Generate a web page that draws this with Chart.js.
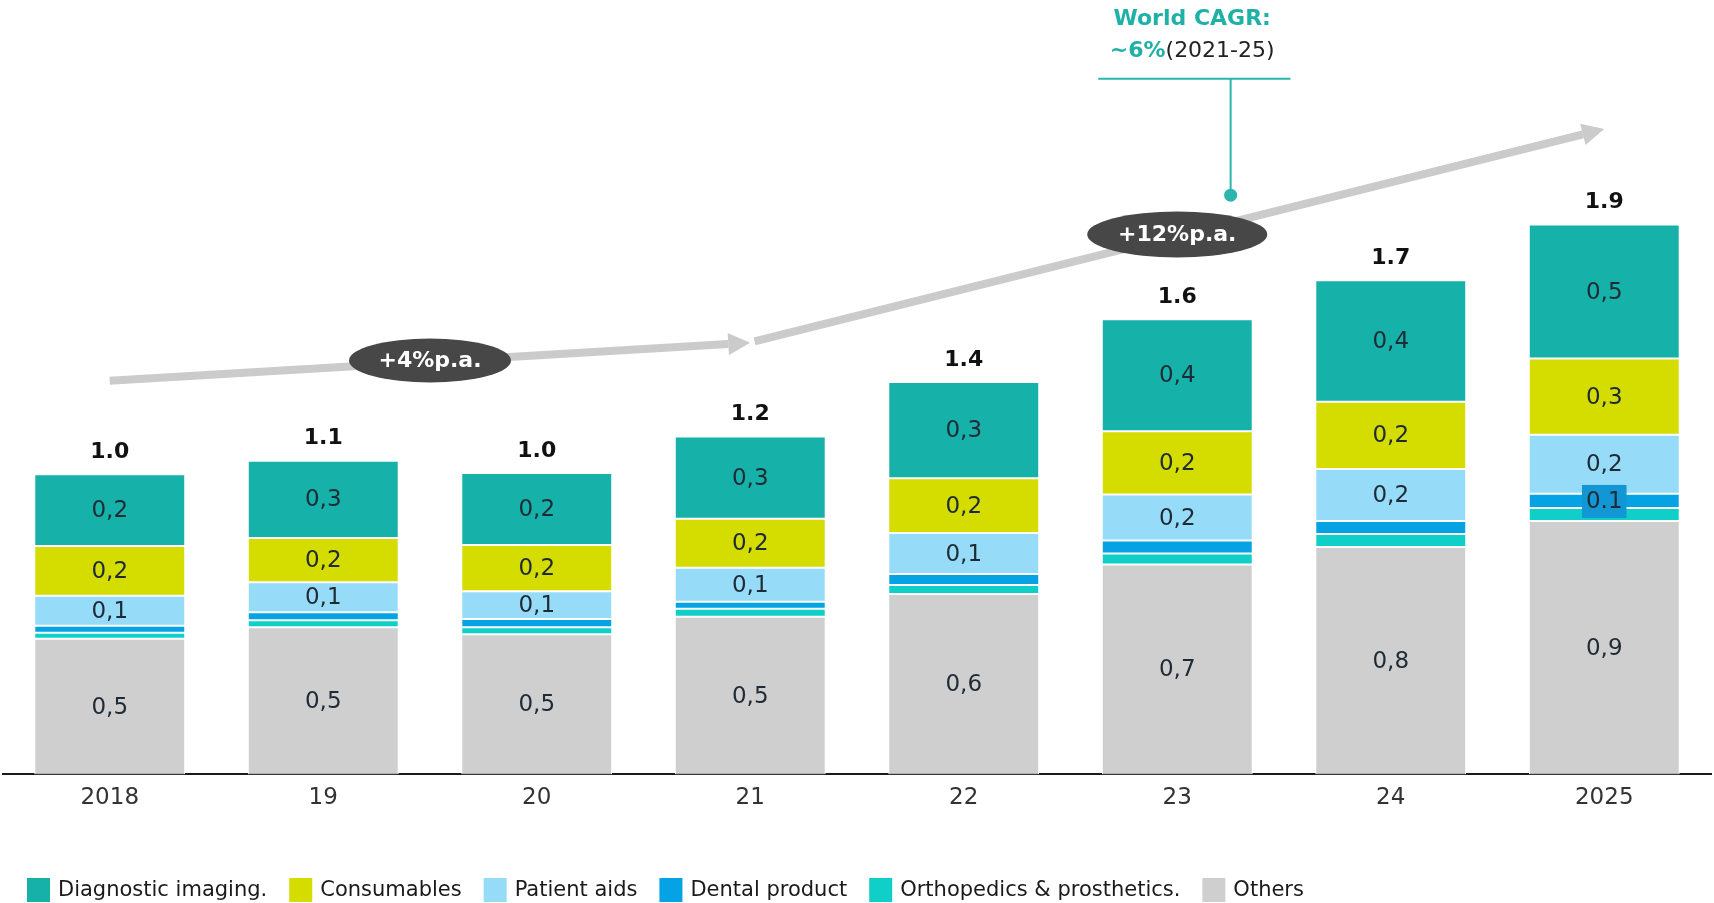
<!DOCTYPE html>
<html>
<head>
<meta charset="utf-8">
<script src="https://cdn.jsdelivr.net/npm/chart.js@4.4.0/dist/chart.umd.min.js"></script>
<style>
    html, body { margin: 0; padding: 0; background: #fff; }
    #wrap { width: 1714px; height: 903px; }
</style>
</head>
<body>
<div id="wrap"><canvas id="marketChart" width="1714" height="903"></canvas></div>
<script>
// Market size by segment
var years = ['2018', '19', '20', '21', '22', '23', '24', '2025'];

var diagnosticImaging = [0.249, 0.268, 0.249, 0.285, 0.334, 0.388, 0.421, 0.464];
var consumables       = [0.172, 0.153, 0.16, 0.17, 0.19, 0.219, 0.233, 0.264];
var patientAids       = [0.104, 0.104, 0.097, 0.118, 0.142, 0.16, 0.18, 0.205];
var dentalProduct     = [0.024, 0.028, 0.028, 0.024, 0.038, 0.045, 0.045, 0.049];
var orthopedics       = [0.021, 0.024, 0.024, 0.028, 0.031, 0.038, 0.045, 0.045];
var others            = [0.47, 0.51, 0.486, 0.546, 0.625, 0.727, 0.788, 0.878];

// only the last dental segment carries a label in the original
var dentalLabels = ['', '', '', '', '', '', '', '0.1'];

var growthLabels = ['+4%p.a.', '+12%p.a.'];
var cagrTitle = 'World CAGR:';
var cagrValue = '~6%';
var cagrPeriod = '(2021-25)';

(function () {
    var FONT = "'DejaVu Sans', Verdana, sans-serif";
    var LABEL_COLOR = '#1e2a35';

    var colors = {
        diag: '#16b1a8',
        cons: '#d4dc00',
        patient: '#96dcf8',
        dental: '#06a3e4',
        ortho: '#10cfc8',
        others: '#cfcfcf'
    };

    function makeSet(label, data, color, showValue) {
        return {
            label: label,
            data: data,
            backgroundColor: color,
            borderColor: '#ffffff',
            borderWidth: 1,
            borderSkipped: false,
            showValue: showValue
        };
    }

    // bottom of the stack first
    var datasets = [
        makeSet('Others', others, colors.others, true),
        makeSet('Orthopedics & prosthetics.', orthopedics, colors.ortho, false),
        makeSet('Dental product', dentalProduct, colors.dental, false),
        makeSet('Patient aids', patientAids, colors.patient, true),
        makeSet('Consumables', consumables, colors.cons, true),
        makeSet('Diagnostic imaging.', diagnosticImaging, colors.diag, true)
    ];

    // annotation anchors in (category index, value) space
    var arrows = [
        { from: [0.0, 1.364], to: [3.0, 1.496] },
        { from: [3.02, 1.5], to: [7.0, 2.236] }
    ];
    var bubbles = [
        { at: [1.5, 1.434], w: 162, h: 44, text: growthLabels[0] },
        { at: [5.0, 1.871], w: 180, h: 46, text: growthLabels[1] }
    ];
    var cagr = { lineY: 2.41, lineFrom: 4.63, lineTo: 5.53, stemX: 5.25, dotY: 2.007, textX: 5.07, titleY: 2.618, subY: 2.507 };

    function px(chart, pt) {
        return [chart.scales.x.getPixelForValue(pt[0]), chart.scales.y.getPixelForValue(pt[1])];
    }

    function drawArrow(ctx, p0, p1) {
        var ang = Math.atan2(p1[1] - p0[1], p1[0] - p0[0]);
        var headLen = 22, headHalf = 11;
        var bx = p1[0] - Math.cos(ang) * headLen,
            by = p1[1] - Math.sin(ang) * headLen;
        ctx.save();
        ctx.strokeStyle = '#cbcbcb';
        ctx.fillStyle = '#cbcbcb';
        ctx.lineWidth = 8;
        ctx.beginPath();
        ctx.moveTo(p0[0], p0[1]);
        ctx.lineTo(bx, by);
        ctx.stroke();
        ctx.beginPath();
        ctx.moveTo(p1[0], p1[1]);
        ctx.lineTo(bx - Math.sin(ang) * headHalf, by + Math.cos(ang) * headHalf);
        ctx.lineTo(bx + Math.sin(ang) * headHalf, by - Math.cos(ang) * headHalf);
        ctx.closePath();
        ctx.fill();
        ctx.restore();
    }

    function drawLegend(chart) {
        var ctx = chart.ctx;
        var items = chart.data.datasets.slice().reverse();
        var x = 27, y = 878, boxW = 23, boxH = 24;
        ctx.save();
        ctx.font = '21px ' + FONT;
        ctx.textBaseline = 'middle';
        ctx.textAlign = 'left';
        items.forEach(function (ds) {
            ctx.fillStyle = ds.backgroundColor;
            ctx.fillRect(x, y, boxW, boxH);
            ctx.fillStyle = '#1a1a1a';
            ctx.fillText(ds.label, x + boxW + 8, y + boxH / 2 + 1);
            x += boxW + 8 + ctx.measureText(ds.label).width + 22;
        });
        ctx.restore();
    }

    var decorations = {
        id: 'decorations',
        afterDatasetsDraw: function (chart) {
            var ctx = chart.ctx;
            ctx.save();
            ctx.textAlign = 'center';
            ctx.textBaseline = 'middle';

            // values inside the segments
            chart.data.datasets.forEach(function (ds, di) {
                var meta = chart.getDatasetMeta(di);
                meta.data.forEach(function (bar, i) {
                    var cy = (bar.y + bar.base) / 2;
                    if (ds.showValue) {
                        ctx.font = '23px ' + FONT;
                        ctx.fillStyle = LABEL_COLOR;
                        ctx.fillText(ds.data[i].toFixed(1).replace('.', ','), bar.x, cy + 1);
                    } else if (ds.label === 'Dental product' && dentalLabels[i]) {
                        ctx.font = '23px ' + FONT;
                        var w = ctx.measureText(dentalLabels[i]).width + 8;
                        ctx.fillStyle = '#1296d4';
                        ctx.fillRect(bar.x - w / 2, cy - 16, w, 33);
                        ctx.fillStyle = LABEL_COLOR;
                        ctx.fillText(dentalLabels[i], bar.x, cy + 1);
                    }
                });
            });

            // totals above the bars
            var topMeta = chart.getDatasetMeta(chart.data.datasets.length - 1);
            ctx.font = 'bold 22px ' + FONT;
            ctx.fillStyle = '#111';
            years.forEach(function (y, i) {
                var total = 0;
                chart.data.datasets.forEach(function (ds) { total += ds.data[i]; });
                var bar = topMeta.data[i];
                ctx.fillText(total.toFixed(1), bar.x, bar.y - 22);
            });
            ctx.restore();
        },
        afterDraw: function (chart) {
            var ctx = chart.ctx;

            arrows.forEach(function (a) {
                drawArrow(ctx, px(chart, a.from), px(chart, a.to));
            });

            ctx.save();
            bubbles.forEach(function (b) {
                var c = px(chart, b.at);
                ctx.fillStyle = '#474747';
                ctx.beginPath();
                ctx.ellipse(c[0], c[1], b.w / 2, b.h / 2, 0, 0, Math.PI * 2);
                ctx.fill();
                ctx.fillStyle = '#ffffff';
                ctx.font = 'bold 22px ' + FONT;
                ctx.textAlign = 'center';
                ctx.textBaseline = 'middle';
                ctx.fillText(b.text, c[0], c[1] + 1);
            });

            // World CAGR callout
            var teal = '#2bb5ad';
            var lineL = px(chart, [cagr.lineFrom, cagr.lineY]),
                lineR = px(chart, [cagr.lineTo, cagr.lineY]),
                stemTop = px(chart, [cagr.stemX, cagr.lineY]),
                dot = px(chart, [cagr.stemX, cagr.dotY]);
            ctx.strokeStyle = teal;
            ctx.lineWidth = 2;
            ctx.beginPath();
            ctx.moveTo(lineL[0], lineL[1]);
            ctx.lineTo(lineR[0], lineR[1]);
            ctx.moveTo(stemTop[0], stemTop[1]);
            ctx.lineTo(dot[0], dot[1]);
            ctx.stroke();
            ctx.fillStyle = teal;
            ctx.beginPath();
            ctx.arc(dot[0], dot[1], 6.5, 0, Math.PI * 2);
            ctx.fill();

            var t1 = px(chart, [cagr.textX, cagr.titleY]),
                t2 = px(chart, [cagr.textX, cagr.subY]);
            ctx.textBaseline = 'middle';
            ctx.textAlign = 'center';
            ctx.font = 'bold 22px ' + FONT;
            ctx.fillStyle = '#1fb0a6';
            ctx.fillText(cagrTitle, t1[0], t1[1]);

            ctx.textAlign = 'left';
            var wVal = ctx.measureText(cagrValue).width;
            ctx.font = '22px ' + FONT;
            var wPer = ctx.measureText(cagrPeriod).width;
            var sx = t2[0] - (wVal + wPer) / 2;
            ctx.font = 'bold 22px ' + FONT;
            ctx.fillStyle = '#1fb0a6';
            ctx.fillText(cagrValue, sx, t2[1]);
            ctx.font = '22px ' + FONT;
            ctx.fillStyle = '#222';
            ctx.fillText(cagrPeriod, sx + wVal, t2[1]);
            ctx.restore();

            drawLegend(chart);
        }
    };

    new Chart(document.getElementById('marketChart').getContext('2d'), {
        type: 'bar',
        data: { labels: years, datasets: datasets },
        options: {
            responsive: false,
            devicePixelRatio: 1,
            animation: false,
            layout: { padding: { top: 24, left: 3, right: 3, bottom: 81 } },
            datasets: { bar: { barPercentage: 0.707, categoryPercentage: 1 } },
            plugins: {
                legend: { display: false },
                tooltip: { enabled: false }
            },
            scales: {
                x: {
                    stacked: true,
                    grid: { display: false, drawTicks: false },
                    border: { display: true, color: '#1a1a1a', width: 2 },
                    ticks: { color: '#333', font: { family: FONT, size: 23 }, padding: 10 }
                },
                y: {
                    stacked: true,
                    display: false,
                    min: 0,
                    max: 2.6
                }
            }
        },
        plugins: [decorations]
    });
})();
</script>
</body>
</html>
